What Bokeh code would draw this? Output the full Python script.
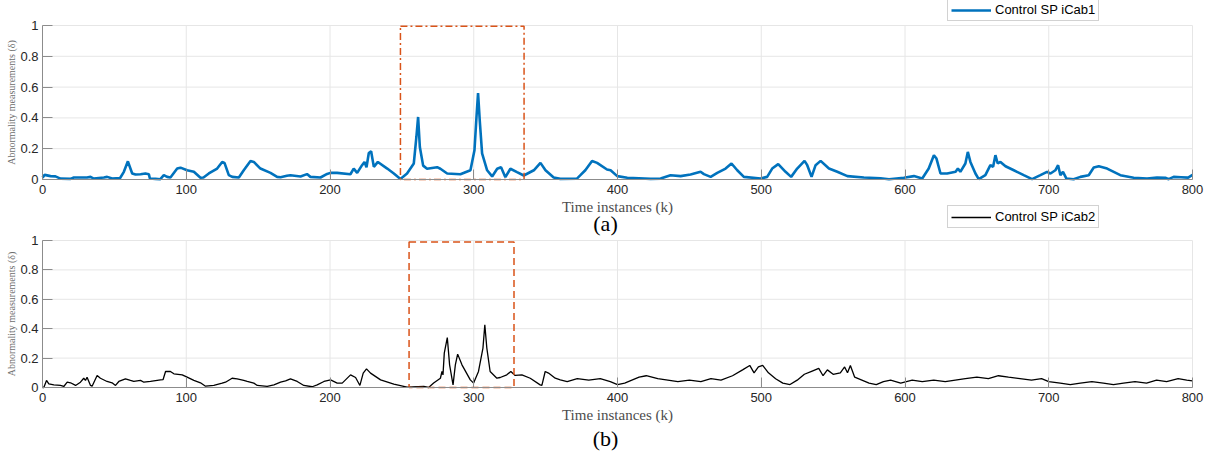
from bokeh.plotting import figure
from bokeh.models import (Range1d, FixedTicker, NumeralTickFormatter, Legend,
                          LegendItem, Label, LinearAxis)
from bokeh.embed import file_html
from bokeh.resources import INLINE

# ---------------- data ----------------
k_a = [0, 1.5, 5.6, 9, 12.5, 19.5, 21.8, 31, 33.4, 35.7, 42.7, 45, 48.5, 54, 56.6, 59.4,
       62.4, 64.7, 68.2, 71.6, 74, 74.7, 78.6, 82, 84.4, 86.7, 89, 93.7, 96, 100.6, 105.3,
       109.9, 112, 115.7, 121.5, 125, 126.6, 129.6, 132, 136.6, 140, 144.7, 147, 151.6,
       158.6, 163.2, 165.6, 170, 172.5, 179.5, 184, 186.4, 193.4, 198, 200.3, 204.9, 214.2,
       216.5, 218.9, 222.3, 224, 225.4, 227, 228.6, 230.5, 233.3, 239.8, 244.4, 249, 253.6,
       258.3, 260.1, 261.3, 262.5, 264.8, 267.5, 274.5, 276.8, 281.5, 290.7, 297.7, 300.5,
       301.9, 303, 304.2, 305.8, 309.3, 312.8, 316.3, 319, 322, 325.5, 330.1, 334.8, 341.8,
       346.4, 349.9, 355.6, 360.2, 371.8, 374.2, 377.6, 382.3, 385.8, 392.7, 395.2, 399.8,
       406.8, 423, 430, 436.9, 443.9, 450.8, 457.8, 460.1, 464.8, 469.4, 475.2, 479.3, 483.3,
       487.9, 499.5, 504.1, 507.6, 511.8, 516.9, 520.8, 525, 530.1, 532, 535, 537.8, 541.3,
       547.1, 552.9, 559.9, 571.4, 583, 588.9, 599.2, 606.2, 612, 616.5, 620.1, 621.9, 624.7,
       629.3, 635.2, 636.8, 638.5, 642, 643.7, 645.5, 649, 651.3, 655.9, 659.4, 661.3, 662.9,
       664.5, 666.4, 669.9, 675.7, 682.6, 688.4, 694.2, 698.8, 701.2, 704.6, 706.5, 708.1,
       709.9, 712.3, 717.3, 722, 727.8, 731.3, 734.8, 740.6, 749.8, 759.1, 768.4, 775.3,
       781.1, 783.4, 786.9, 792, 797, 800]
delta_a = [0.012, 0.03, 0.022, 0.02, 0.006, 0.004, 0.013, 0.013, 0.017, 0.006, 0.013, 0.017,
           0.006, 0.01, 0.05, 0.118, 0.039, 0.032, 0.034, 0.039, 0.034, 0.006, 0.004, 0.002,
           0.028, 0.017, 0.013, 0.071, 0.077, 0.06, 0.05, 0.011, 0.013, 0.039, 0.071, 0.114,
           0.108, 0.028, 0.017, 0.013, 0.06, 0.12, 0.114, 0.071, 0.043, 0.017, 0.015, 0.024,
           0.028, 0.02, 0.035, 0.017, 0.013, 0.036, 0.043, 0.043, 0.034, 0.071, 0.043, 0.093,
           0.114, 0.08, 0.172, 0.183, 0.082, 0.114, 0.071, 0.039, 0.004, 0.039, 0.104, 0.276,
           0.406, 0.211, 0.09, 0.07, 0.08, 0.07, 0.039, 0.034, 0.06, 0.19, 0.406, 0.561, 0.38,
           0.17, 0.06, 0.02, 0.07, 0.08, 0.015, 0.07, 0.048, 0.026, 0.06, 0.108, 0.06, 0.013,
           0.004, 0.006, 0.028, 0.06, 0.12, 0.108, 0.065, 0.06, 0.022, 0.011, 0.004, 0.006,
           0.028, 0.022, 0.032, 0.05, 0.035, 0.017, 0.043, 0.071, 0.104, 0.06, 0.017, 0.006,
           0.017, 0.071, 0.1, 0.05, 0.017, 0.071, 0.121, 0.093, 0.017, 0.093, 0.121, 0.071,
           0.05, 0.022, 0.013, 0.008, 0.002, 0.011, 0.022, 0.006, 0.071, 0.158, 0.136, 0.039,
           0.039, 0.05, 0.071, 0.05, 0.104, 0.179, 0.114, 0.039, 0.002, 0.028, 0.093, 0.082,
           0.158, 0.104, 0.114, 0.086, 0.06, 0.028, 0.002, 0.028, 0.05, 0.039, 0.06, 0.093,
           0.028, 0.05, 0.006, 0.002, 0.017, 0.028, 0.078, 0.086, 0.071, 0.028, 0.011, 0.006,
           0.013, 0.011, 0.002, 0.017, 0.015, 0.012, 0.03]

k_b = [0, 0.9, 2.8, 4.4, 7.9, 12.5, 14.8, 17.2, 19.5, 23, 26.4, 28.7, 29.9, 31, 33.4, 34.5,
       38, 40.3, 44.9, 48.4, 50.8, 53.1, 57.7, 61.2, 63.5, 68.2, 70.5, 75.1, 82.1, 83.9, 85.6,
       89, 91.4, 97.2, 100.6, 105.3, 109.9, 113.4, 119.2, 125, 127.3, 131.9, 135.4, 140,
       142.4, 147, 149.4, 156.3, 161, 165.6, 169.1, 172.5, 177.2, 181.8, 187.6, 191.1, 195.8,
       200.4, 205, 208.5, 214.3, 217.8, 220.8, 223.1, 225.4, 228.2, 235.2, 244.4, 253.6,
       265.2, 268.6, 272.1, 276.8, 277.9, 278.6, 279.5, 281.6, 283.2, 285.6, 287.2, 288.8,
       291.8, 297.6, 299.9, 303.3, 306.4, 307.7, 309.1, 311.4, 316.1, 318.4, 323, 325.8,
       328.8, 333.5, 339.3, 346.2, 347.4, 349.7, 352, 356.7, 360.2, 365, 372, 380, 388, 395,
       400, 405, 410, 415, 420, 428, 435, 442, 450, 458, 465, 472, 480, 487, 492, 495, 498,
       501, 505, 510, 515, 520, 525, 530, 535, 540, 543, 546, 550, 555, 558, 560, 562, 565,
       570, 575, 580, 585, 590, 597, 605, 612, 620, 628, 635, 642, 650, 658, 665, 672, 680,
       688, 695, 700, 708, 715, 722, 730, 738, 745, 752, 760, 768, 775, 782, 790, 796, 800]
delta_b = [0.0, 0.0, 0.048, 0.025, 0.018, 0.014, 0.007, 0.036, 0.032, 0.014, 0.036, 0.063,
           0.048, 0.07, 0.014, 0.009, 0.082, 0.063, 0.041, 0.032, 0.014, 0.041, 0.059, 0.048,
           0.041, 0.048, 0.036, 0.041, 0.052, 0.054, 0.109, 0.109, 0.093, 0.086, 0.07, 0.048,
           0.032, 0.009, 0.014, 0.029, 0.036, 0.063, 0.059, 0.048, 0.041, 0.03, 0.014, 0.007,
           0.018, 0.036, 0.045, 0.059, 0.041, 0.014, 0.005, 0.018, 0.041, 0.052, 0.03, 0.03,
           0.086, 0.068, 0.014, 0.098, 0.127, 0.098, 0.052, 0.023, 0.002, 0.007, 0.0, 0.03,
           0.063, 0.109, 0.086, 0.234, 0.34, 0.154, 0.018, 0.154, 0.227, 0.154, 0.052, 0.03,
           0.109, 0.268, 0.426, 0.268, 0.109, 0.063, 0.068, 0.086, 0.109, 0.082, 0.086, 0.063,
           0.018, 0.014, 0.109, 0.098, 0.063, 0.052, 0.04, 0.06, 0.05, 0.06, 0.04, 0.02, 0.03,
           0.05, 0.07, 0.08, 0.06, 0.05, 0.04, 0.05, 0.04, 0.06, 0.05, 0.08, 0.12, 0.15, 0.1,
           0.14, 0.15, 0.1, 0.06, 0.03, 0.02, 0.05, 0.09, 0.11, 0.13, 0.08, 0.12, 0.09, 0.1,
           0.14, 0.1, 0.15, 0.07, 0.05, 0.03, 0.02, 0.04, 0.05, 0.03, 0.05, 0.04, 0.05, 0.04,
           0.05, 0.06, 0.07, 0.06, 0.08, 0.07, 0.06, 0.05, 0.06, 0.04, 0.03, 0.02, 0.03, 0.04,
           0.03, 0.02, 0.03, 0.04, 0.03, 0.05, 0.04, 0.06, 0.05, 0.045]

box_a = [249, 335, 0, 0.995]
box_b = [255, 328, 0, 0.99]

x_ticks = [0, 100, 200, 300, 400, 500, 600, 700, 800]
y_ticks = [0, 0.2, 0.4, 0.6, 0.8, 1]

label_a = "Control SP iCab1"
label_b = "Control SP iCab2"
x_title = "Time instances (k)"
y_title = "Abnormality measurements (\u03b4)"
caption_a = "(a)"
caption_b = "(b)"

BLUE = "#0072BD"
ORANGE = "#D95319"
SANS = "Liberation Sans"
SERIF = "Liberation Serif"
GRID = "#e6e6e6"
AXIS = "#8c8c8c"

# ---------------- layout (pixels) ----------------
W, H = 1208, 452
X0_PX, X1_PX = 42, 1192            # where k=0 and k=800 sit
A_TOP, A_BOT = 25, 179             # panel (a): delta=1 and delta=0
B_TOP, B_BOT = 240, 387            # panel (b)


def y_span(top_px, bot_px):
    ppu = bot_px - top_px
    return Range1d(-(H - bot_px) / ppu, 1 + top_px / ppu)


ppx = (X1_PX - X0_PX) / (x_ticks[-1] - x_ticks[0])
x_range = Range1d(x_ticks[0] - X0_PX / ppx, x_ticks[-1] + (W - X1_PX) / ppx)

p = figure(width=W, height=H, output_backend="svg", toolbar_location=None, title=None,
           x_range=x_range, y_range=y_span(A_TOP, A_BOT),
           min_border_left=0, min_border_right=0, min_border_top=0, min_border_bottom=0)
p.extra_y_ranges = {"b": y_span(B_TOP, B_BOT)}
p.outline_line_color = None
p.background_fill_color = "white"
p.border_fill_color = "white"
p.xgrid.visible = False
p.ygrid.visible = False


def style_axis(ax, is_x):
    ax.fixed_location = 0
    ax.bounds = (x_ticks[0], x_ticks[-1]) if is_x else (y_ticks[0], y_ticks[-1])
    ax.ticker = FixedTicker(ticks=x_ticks if is_x else y_ticks)
    ax.axis_line_color = AXIS
    ax.major_tick_line_color = AXIS
    ax.major_tick_in = 10
    ax.major_tick_out = 0
    ax.minor_tick_line_color = None
    ax.major_label_text_font = SANS
    ax.major_label_text_font_size = "13px"
    ax.major_label_text_color = "#262626"
    ax.axis_label_text_font = SERIF
    ax.axis_label_text_font_style = "normal"
    if is_x:
        ax.axis_label = x_title
        ax.axis_label_text_font_size = "15px"
        ax.axis_label_text_color = "#4d4d4d"
        ax.axis_label_standoff = 2
        ax.major_label_standoff = 5
    else:
        ax.formatter = NumeralTickFormatter(format="0.[0]")
        ax.axis_label = y_title
        ax.axis_label_text_font_size = "10px"
        ax.axis_label_text_color = "#6e6e6e"
        ax.axis_label_standoff = 0
        ax.major_label_standoff = 4


def grid(range_name):
    n_x, n_y = len(x_ticks), len(y_ticks)
    p.segment(x0=x_ticks, y0=[y_ticks[0]] * n_x, x1=x_ticks, y1=[y_ticks[-1]] * n_x,
              line_color=GRID, line_width=1, y_range_name=range_name)
    p.segment(x0=[x_ticks[0]] * n_y, y0=y_ticks, x1=[x_ticks[-1]] * n_y, y1=y_ticks,
              line_color=GRID, line_width=1, y_range_name=range_name)


# axes for panel (a) (default ones) and panel (b)
style_axis(p.xaxis[0], True)
style_axis(p.yaxis[0], False)
xb = LinearAxis(y_range_name="b")
yb = LinearAxis(y_range_name="b")
style_axis(xb, True)
style_axis(yb, False)
p.add_layout(xb, "below")
p.add_layout(yb, "left")

grid("default")
grid("b")

# ---------------- panel (a) ----------------
r_a = p.line(k_a, delta_a, line_color=BLUE, line_width=2.6)
p.quad(left=[box_a[0]], right=[box_a[1]], bottom=[box_a[2]], top=[box_a[3]],
       fill_alpha=0, line_color=ORANGE, line_width=1.5, line_dash="7 3 2 3")

# ---------------- panel (b) ----------------
r_b = p.line(k_b, delta_b, line_color="black", line_width=1.3, y_range_name="b")
p.quad(left=[box_b[0]], right=[box_b[1]], bottom=[box_b[2]], top=[box_b[3]],
       fill_alpha=0, line_color=ORANGE, line_width=1.5, line_dash="7 4", y_range_name="b")


def legend_at(item, x, y):
    return Legend(items=[item], location=(x, y), orientation="vertical",
                  padding=3, margin=0, spacing=0,
                  glyph_width=40, glyph_height=12, label_height=12, label_standoff=4,
                  label_text_font=SANS, label_text_font_size="13px",
                  label_text_color="black",
                  border_line_color="#a6a6a6", border_line_width=1,
                  background_fill_color="white", background_fill_alpha=1)


def caption(text, x, y):
    return Label(x=x, y=y, x_units="screen", y_units="screen", text=text,
                 text_font=SERIF, text_font_size="22px", text_color="black",
                 text_align="center", text_baseline="middle")


p.add_layout(legend_at(LegendItem(label=label_a, renderers=[r_a]), 947, H - 21), "center")
p.add_layout(legend_at(LegendItem(label=label_b, renderers=[r_b]), 947, H - 228), "center")
p.add_layout(caption(caption_a, 605, H - 223))
p.add_layout(caption(caption_b, 605, H - 438))

open("out.html", "w").write(file_html(p, INLINE))
